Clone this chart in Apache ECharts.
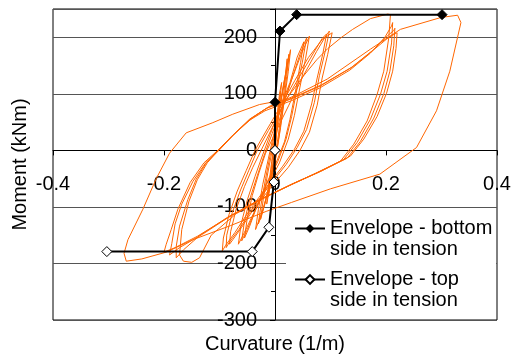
<!DOCTYPE html>
<html>
<head>
  <meta charset="utf-8">
  <title>Moment - curvature</title>
  <script src="https://cdn.jsdelivr.net/npm/echarts@6/dist/echarts.min.js"></script>
  <style>
    body { margin: 0; padding: 0; background: #fff; }
    #main { width: 522px; height: 357px; }
  </style>
</head>
<body>
  <div id="main"></div>
  <script type="text/javascript">
    // axis ticks
    var xTicks = [-0.4, 0.4, 0.2];   // min, max, step
    var yTicks = [-300, 250, 100];

    // envelopes [curvature, moment]
    var envBottom = [[0, 0], [0, 85], [0.009, 211], [0.039, 240], [0.301, 240]];
    var envTop = [[0, 0], [-0.002, -56], [-0.011, -136], [-0.041, -179], [-0.303, -179]];

    var loopsF = [[0, 0], [0.004, 60], [0.008, 100], [0.012, 120], [0.009, 90], [0.004, 40], [-0.002, -10], [-0.008, -55], [-0.013, -85], [-0.015, -95], [-0.011, -60], [-0.006, -20], [0.0, 25], [0.005, 70], [0.010, 105], [0.008, 80], [0.003, 30], [-0.003, -25], [-0.009, -65], [-0.012, -82], [-0.008, -45], [-0.003, 0]];

    var loopsE = [[-0.003, 0], [0.006, 60], [0.015, 115], [0.022, 150], [0.025, 170], [0.021, 130], [0.015, 80], [0.008, 30], [0.0, -20], [-0.01, -65], [-0.022, -105], [-0.032, -132], [-0.035, -140], [-0.03, -105], [-0.022, -60], [-0.012, -15], [-0.002, 30], [0.01, 85], [0.02, 135], [0.028, 178], [0.024, 140], [0.017, 90], [0.01, 40], [0.002, -10], [-0.008, -55], [-0.019, -98], [-0.028, -125], [-0.03, -130], [-0.025, -95], [-0.017, -50], [-0.008, -5], [0.002, 40], [0.012, 95], [0.019, 135], [0.022, 162], [0.018, 120], [0.012, 70], [0.005, 20], [-0.004, -30], [-0.014, -75], [-0.022, -108], [-0.026, -122], [-0.021, -85], [-0.013, -40], [-0.004, 5]];

    var loopsD = [[-0.004, 5], [0.012, 70], [0.030, 125], [0.045, 170], [0.057, 199], [0.050, 160], [0.040, 110], [0.030, 60], [0.020, 20], [0.005, -20], [-0.015, -60], [-0.035, -105], [-0.050, -140], [-0.060, -160], [-0.055, -125], [-0.045, -85], [-0.032, -45], [-0.020, -10], [-0.005, 30], [0.010, 70], [0.030, 125], [0.048, 172], [0.062, 202], [0.055, 162], [0.045, 112], [0.035, 62], [0.024, 20], [0.008, -22], [-0.014, -64], [-0.038, -110], [-0.055, -145], [-0.066, -166], [-0.061, -130], [-0.050, -88], [-0.036, -46], [-0.023, -10], [-0.008, 30], [0.008, 72], [0.027, 120], [0.040, 165], [0.052, 192], [0.046, 155], [0.037, 105], [0.027, 55], [0.017, 15], [0.002, -22], [-0.016, -60], [-0.033, -100], [-0.046, -135], [-0.055, -155], [-0.050, -120], [-0.041, -80], [-0.029, -40], [-0.017, -5]];

    var loopsC = [[-0.017, -5], [0.0, 30], [0.025, 80], [0.050, 130], [0.075, 175], [0.090, 200], [0.098, 211], [0.090, 173], [0.080, 132], [0.071, 85], [0.057, 37], [0.040, 5], [0.020, -25], [-0.010, -62], [-0.040, -102], [-0.065, -140], [-0.082, -162], [-0.088, -172], [-0.087, -150], [-0.077, -110], [-0.062, -70], [-0.047, -35], [-0.032, 0], [-0.012, 35], [0.012, 75], [0.038, 120], [0.062, 160], [0.085, 198], [0.093, 206], [0.086, 170], [0.076, 128], [0.066, 82], [0.052, 34], [0.035, 2], [0.014, -28], [-0.016, -66], [-0.046, -106], [-0.072, -145], [-0.089, -168], [-0.095, -178], [-0.093, -155], [-0.083, -114], [-0.068, -72], [-0.052, -36], [-0.036, 0], [-0.015, 36], [0.010, 78], [0.036, 124], [0.060, 164], [0.085, 196], [0.103, 208], [0.095, 170], [0.085, 128], [0.076, 80], [0.062, 32], [0.045, 0], [0.024, -30], [-0.006, -64], [-0.036, -100], [-0.060, -136], [-0.076, -158], [-0.082, -166], [-0.080, -144], [-0.070, -104], [-0.055, -64], [-0.040, -30], [-0.025, 0]];

    var loopsB = [[-0.025, 0], [-0.005, 40], [0.02, 90], [0.05, 130], [0.075, 160], [0.095, 180], [0.12, 200], [0.14, 214], [0.172, 233], [0.203, 241], [0.208, 240],
      [0.205, 199], [0.196, 140], [0.184, 99], [0.166, 52], [0.142, 11], [0.118, -19], [0.07, -42], [0.02, -65], [-0.03, -88], [-0.09, -122], [-0.14, -152], [-0.18, -172], [-0.200, -180],
      [-0.196, -166], [-0.187, -140], [-0.175, -104], [-0.153, -57], [-0.128, -22], [-0.103, 0], [-0.078, 25], [-0.048, 52], [-0.018, 70], [0.030, 88], [0.080, 110], [0.135, 142], [0.172, 172], [0.198, 200], [0.210, 220], [0.212, 226],
      [0.210, 190], [0.202, 140], [0.190, 99], [0.172, 55], [0.148, 14], [0.124, -16], [0.075, -40], [0.025, -62], [-0.025, -86], [-0.085, -118], [-0.135, -150], [-0.165, -176], [-0.178, -190],
      [-0.178, -170], [-0.172, -134], [-0.157, -87], [-0.142, -51], [-0.124, -22], [-0.103, 0], [-0.076, 27], [-0.046, 55], [-0.016, 74], [0.032, 92], [0.082, 114], [0.137, 146], [0.175, 176], [0.202, 202], [0.214, 212], [0.216, 216],
      [0.214, 185], [0.207, 140], [0.196, 100], [0.178, 57], [0.154, 16], [0.130, -14], [0.080, -38], [0.030, -60], [-0.020, -84], [-0.080, -116], [-0.130, -148], [-0.172, -172], [-0.190, -185],
      [-0.186, -165], [-0.180, -130], [-0.168, -95], [-0.148, -55], [-0.125, -22], [-0.101, 0], [-0.074, 28], [-0.044, 56], [-0.014, 75], [0.034, 94], [0.084, 116], [0.140, 148], [0.178, 178], [0.205, 200], [0.220, 208],
      [0.218, 180], [0.212, 140], [0.201, 101], [0.184, 60], [0.160, 20], [0.136, -10], [0.085, -36], [0.035, -58], [-0.015, -82], [-0.070, -112], [-0.115, -150], [-0.136, -190], [-0.150, -198], [-0.165, -196],
      [-0.172, -185], [-0.168, -140], [-0.155, -90], [-0.140, -52], [-0.122, -22], [-0.100, 2], [-0.072, 30], [-0.040, 58], [-0.010, 78]];

    var loopsA = [[-0.010, 78], [0.034, 96], [0.094, 126], [0.172, 179], [0.226, 214], [0.299, 235], [0.329, 239], [0.335, 226], [0.315, 140], [0.291, 70], [0.255, 5], [0.189, -42], [0.10, -68], [0.03, -92], [-0.016, -108], [-0.08, -133], [-0.148, -158], [-0.196, -180], [-0.24, -192], [-0.268, -196], [-0.272, -182], [-0.265, -158], [-0.238, -104], [-0.214, -50], [-0.19, -5], [-0.16, 31], [-0.112, 49], [-0.076, 64], [-0.028, 81], [0.02, 90]];

    var nameBottom = 'Envelope - bottom\nside in tension';
    var nameTop = 'Envelope - top\nside in tension';

    var font = 'Liberation Sans, Arial, sans-serif';
    var orange = '#ff6600';

    var myChart = echarts.init(document.getElementById('main'));

    function loopSeries(data) {
      return {
        type: 'line',
        data: data,
        symbol: 'none',
        silent: true,
        z: 2,
        lineStyle: { color: orange, width: 1 }
      };
    }

    function legendFor(name, top) {
      return {
        data: [name],
        left: 294,
        top: top,
        padding: 0,
        itemWidth: 30,
        itemHeight: 11,
        selectedMode: false,
        z: 5,
        formatter: function (n) { return ' \n' + n; },
        textStyle: { fontSize: 20, lineHeight: 21, color: '#000', fontFamily: font }
      };
    }

    var option = {
      animation: false,
      textStyle: { fontFamily: font },
      grid: {
        left: 53, right: 25, top: 9, bottom: 37,
        outerBoundsMode: 'none',
        containLabel: false,
        show: true, borderColor: '#000', borderWidth: 1
      },
      legend: [legendFor(nameBottom, 197), legendFor(nameTop, 248)],
      graphic: [{
        type: 'rect', z: 3,
        shape: { x: 286, y: 210, width: 210, height: 109 },
        style: { fill: '#fff' }
      }],
      xAxis: {
        type: 'value',
        min: xTicks[0], max: xTicks[1], interval: xTicks[2],
        offset: -169.6,
        axisLine: { onZero: false, lineStyle: { color: '#000', width: 1 } },
        axisTick: { length: 5, lineStyle: { color: '#000' } },
        axisLabel: { fontSize: 20, color: '#000', margin: 24 },
        splitLine: { show: false },
        name: 'Curvature (1/m)',
        nameLocation: 'middle',
        nameGap: 184,
        nameTextStyle: { fontSize: 20, color: '#000' }
      },
      yAxis: {
        type: 'value',
        min: yTicks[0], max: yTicks[1], interval: yTicks[2],
        offset: -222,
        axisLine: { onZero: false, lineStyle: { color: '#000', width: 1 } },
        axisTick: { length: 5, lineStyle: { color: '#000' } },
        minorTick: { show: true, splitNumber: 2, length: 4, lineStyle: { color: '#000' } },
        axisLabel: {
          fontSize: 20, color: '#000', margin: 18,
          formatter: function (v) { return v % 100 === 0 ? String(v) : ''; }
        },
        splitLine: { show: true, lineStyle: { color: '#555', width: 1 } },
        name: 'Moment (kNm)',
        nameLocation: 'middle',
        nameRotate: 90,
        nameGap: 245,
        nameTextStyle: { fontSize: 20, color: '#000' }
      },
      series: [
        loopSeries(loopsF),
        loopSeries(loopsE),
        loopSeries(loopsD),
        loopSeries(loopsC),
        loopSeries(loopsB),
        loopSeries(loopsA),
        {
          name: nameBottom,
          type: 'line',
          data: envBottom,
          z: 4,
          symbol: 'diamond',
          symbolSize: 10,
          itemStyle: { color: '#000', borderColor: '#000' },
          lineStyle: { color: '#000', width: 2 }
        },
        {
          name: nameTop,
          type: 'line',
          data: envTop,
          z: 4,
          symbol: 'diamond',
          symbolSize: 10,
          itemStyle: { color: '#fff', borderColor: '#000', borderWidth: 1 },
          lineStyle: { color: '#000', width: 2 }
        }
      ]
    };

    myChart.setOption(option);
  </script>
</body>
</html>
